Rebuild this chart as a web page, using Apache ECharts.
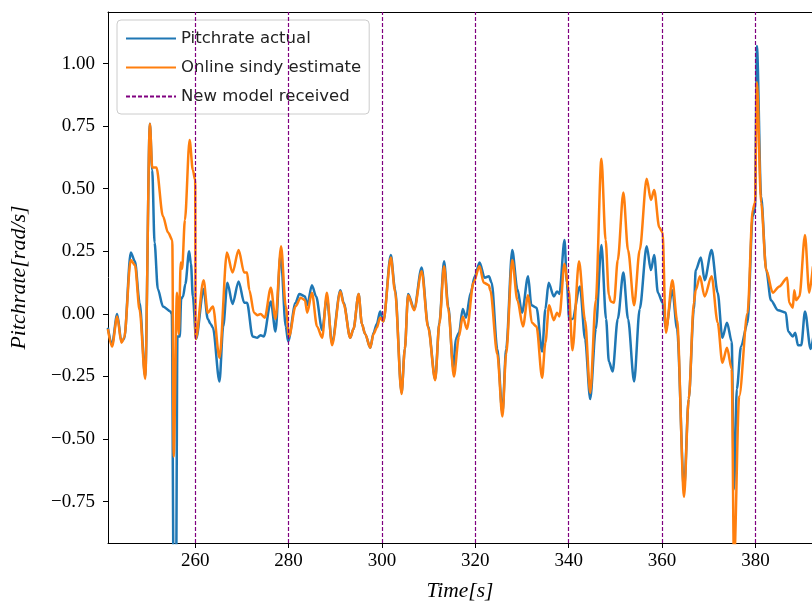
<!DOCTYPE html>
<html lang="en">
<head>
    <meta charset="UTF-8">
    <title>Pitchrate</title>
    <style type="text/css">
        body{margin:0;background:#fff;}
        #main{width:812px;height:607px;}
    </style>
    <script src="https://cdn.jsdelivr.net/npm/echarts@6/dist/echarts.min.js"></script>
</head>
<body>
<div id="main"></div>
<script>
    // time stamps [s] and pitch rate [rad/s]
    var tActual = [241.3,242.2,243.3,244.2,244.8,246.2,247.1,248.1,249.3,250.3,250.8,251.3,252.0,253.1,254.7,255.0,255.4,255.9,256.2,256.7,257.0,257.4,257.9,258.7,259.1,259.5,260.2,261.8,262.7,263.3,263.8,265.2,266.0,266.9,268.0,269.3,270.5,271.1,272.3,273.3,274.0,274.7,276.2,277.2,278.3,279.4,279.9,281.5,282.3,283.5,284.0,285.0,285.9,287.2,288.2,289.3,291.1,291.8,293.2,293.9,295.0,295.7,296.4,297.5,298.2,298.9,299.6,300.3,301.9,302.8,304.2,304.9,305.6,306.9,308.5,309.9,311.4,312.3,313.3,314.2,315.3,315.8,316.5,317.3,318.0,319.0,319.9,320.9,322.0,322.9,323.5,324.7,325.8,326.6,327.9,329.0,330.0,331.3,332.0,333.1,334.3,335.0,335.7,336.8,337.5,338.0,339.1,339.6,340.1,340.8,342.4,343.5,344.6,345.8,347.0,348.0,348.6,349.4,350.5,351.7,352.7,354.0,355.2,356.7,357.6,358.3,359.1,360.1,360.8,362.2,363.2,364.7,365.7,366.8,367.2,368.3,369.1,370.6,371.9,372.9,373.9,374.9,375.4,376.0,376.9,378.3,379.4,379.9,380.3,381.2,382.3,383.3,384.8,386.5,387.0,388.0,388.5,389.1,389.8,390.6,391.8,392.4];
    var pitchActual = [-0.055,-0.12,0.0,-0.11,-0.10,0.245,0.21,0.045,-0.25,0.76,0.575,0.285,0.10,0.03,0.01,0.0,-1.1,-1.1,-0.09,-0.09,0.06,0.07,0.12,0.25,0.2,0.07,-0.10,0.10,-0.02,-0.04,-0.055,-0.27,-0.05,0.125,0.04,0.13,0.045,0.045,-0.09,-0.095,-0.085,-0.09,0.05,-0.07,0.24,-0.05,-0.11,0.045,0.08,0.07,0.035,0.115,0.07,-0.065,0.065,-0.115,0.095,0.045,-0.095,-0.06,0.08,-0.04,-0.08,-0.135,-0.075,-0.04,0.01,-0.03,0.235,0.10,-0.315,-0.14,0.08,0.02,0.185,-0.05,-0.26,-0.035,0.21,0.03,-0.22,-0.10,-0.075,0.02,-0.015,0.085,0.15,0.205,0.145,0.15,0.125,-0.14,-0.395,-0.14,0.255,0.10,0.005,0.15,0.035,0.025,-0.15,0.02,0.125,0.07,0.09,0.08,0.295,0.125,-0.02,-0.02,0.11,-0.10,-0.34,-0.06,0.275,-0.02,-0.19,-0.23,-0.02,0.165,-0.02,-0.27,0.02,0.27,0.175,0.235,0.085,0.045,-0.06,0.095,-0.06,-0.70,-0.34,0.02,0.175,0.225,0.135,0.255,0.085,-0.095,-0.035,-0.11,-0.70,-0.30,-0.13,-0.035,0.39,0.42,1.07,0.47,0.175,0.055,0.015,0.005,-0.07,-0.09,-0.075,-0.125,-0.125,0.01,-0.14,-0.09];

    var tEstimate = [241.3,242.2,243.3,244.2,244.8,246.2,247.1,248.1,249.3,250.3,250.8,251.7,253.1,254.2,255.1,255.4,256.1,256.5,256.9,257.2,257.8,258.8,259.5,260.0,260.1,261.8,262.7,263.8,265.2,266.8,268.0,269.3,270.5,271.1,271.6,272.6,273.3,274.0,274.9,276.2,277.2,278.4,279.4,280.1,281.5,282.6,283.5,284.0,285.0,286.1,287.2,288.2,289.3,291.1,291.8,293.2,293.9,295.0,295.7,296.4,297.5,298.2,298.9,299.6,300.3,301.9,302.8,304.2,304.9,305.6,306.9,308.5,309.9,311.4,312.3,313.3,314.2,315.4,316.5,317.3,318.2,319.6,320.9,321.8,322.9,323.2,324.7,325.8,326.6,327.9,329.0,330.2,331.3,332.1,333.1,334.3,335.0,335.8,336.8,337.5,338.0,339.1,340.0,340.8,342.2,343.5,344.6,345.8,347.0,347.9,348.6,349.0,349.7,350.5,351.7,352.7,354.0,355.2,356.7,357.6,358.3,359.4,360.1,360.8,362.2,363.2,364.7,365.7,366.8,367.2,368.1,369.1,370.6,371.9,372.9,373.9,374.9,375.4,376.5,378.3,379.4,379.9,380.3,381.2,382.3,383.7,385.1,386.8,387.2,388.0,388.3,388.7,389.4,390.6,391.5,392.3];
    var pitchEstimate = [-0.06,-0.13,-0.01,-0.115,-0.095,0.215,0.195,0.015,-0.26,0.76,0.585,0.585,0.39,0.325,0.295,-0.57,0.085,-0.08,0.205,0.18,0.375,0.695,0.575,0.535,-0.10,0.135,0.005,0.03,-0.175,0.245,0.165,0.255,0.165,0.165,0.095,0.005,-0.005,0.0,-0.015,0.105,-0.02,0.27,0.03,-0.09,0.03,0.065,0.055,0.005,0.085,-0.05,-0.095,0.085,-0.125,0.09,0.04,-0.095,-0.06,0.08,-0.04,-0.08,-0.135,-0.08,-0.055,-0.015,-0.03,0.225,0.09,-0.32,-0.14,0.075,0.015,0.17,-0.055,-0.265,-0.04,0.19,0.02,-0.25,-0.09,-0.01,-0.06,0.125,0.19,0.125,0.115,0.095,-0.16,-0.41,-0.16,0.215,0.055,-0.05,0.075,-0.035,-0.05,-0.255,-0.115,0.035,-0.025,0.005,-0.01,0.2,0.095,-0.145,0.21,-0.025,-0.315,0.055,0.62,0.295,0.075,0.05,0.045,0.215,0.485,0.255,0.035,0.255,0.54,0.455,0.495,0.345,0.325,-0.075,0.135,-0.025,-0.73,-0.34,0.045,0.095,0.15,0.07,0.15,-0.035,-0.195,-0.135,-0.22,-1.0,-0.33,0.005,0.415,0.445,0.925,0.445,0.175,0.085,0.11,0.145,0.045,0.025,0.095,0.055,0.07,0.315,0.085,0.19];

    var modelTimes = [260, 280, 300, 320, 340, 360, 380];
    var xTicks = [260, 280, 300, 320, 340, 360, 380];
    var yTicks = [-0.75, -0.5, -0.25, 0, 0.25, 0.5, 0.75, 1.0];

    function pairs(t, v) {
        var res = [];
        for (var i = 0; i < t.length; i++) res.push([t[i], v[i]]);
        return res;
    }

    var serif = 'Liberation Serif';
    var xMin = 241.33, xMax = 392.1, yMin = -0.915, yMax = 1.206;

    var myChart = echarts.init(document.getElementById('main'));
    var option = {
        animation: false,
        backgroundColor: '#fff',
        grid: {left: 107, right: 0, top: 12, bottom: 63},
        legend: {
            orient: 'vertical',
            left: 117,
            top: 20,
            padding: [10, 8, 9, 8],
            itemWidth: 50,
            itemHeight: 14,
            itemGap: 12,
            backgroundColor: 'rgba(255,255,255,0.8)',
            borderColor: '#cccccc',
            borderWidth: 1,
            borderRadius: 4,
            itemStyle: {opacity: 0},
            lineStyle: {opacity: 1},
            textStyle: {fontFamily: 'DejaVu Sans', fontSize: 16.5, color: '#222'},
            data: ['Pitchrate actual', 'Online sindy estimate', 'New model received']
        },
        xAxis: [{
            type: 'value',
            min: xMin,
            max: xMax,
            name: 'Time[s]',
            nameLocation: 'middle',
            nameGap: 37,
            nameTextStyle: {fontFamily: serif, fontStyle: 'italic', fontSize: 21.5, color: '#000'},
            splitLine: {show: false},
            axisLine: {onZero: false, lineStyle: {color: '#000', width: 1}},
            axisTick: {inside: false, length: 5, lineStyle: {color: '#000'}, customValues: xTicks},
            axisLabel: {margin: 9, fontFamily: serif, fontSize: 19, color: '#000', customValues: xTicks}
        }, {
            type: 'value',
            position: 'top',
            min: xMin,
            max: xMax,
            splitLine: {show: false},
            axisLine: {show: true, onZero: false, lineStyle: {color: '#000', width: 1}},
            axisTick: {show: false},
            axisLabel: {show: false}
        }],
        yAxis: {
            type: 'value',
            min: yMin,
            max: yMax,
            name: 'Pitchrate[rad/s]',
            nameLocation: 'middle',
            nameGap: 78,
            nameTextStyle: {fontFamily: serif, fontStyle: 'italic', fontSize: 22, color: '#000'},
            splitLine: {show: false},
            axisLine: {show: true, onZero: false, lineStyle: {color: '#000', width: 1}},
            axisTick: {show: true, inside: false, length: 5, lineStyle: {color: '#000'}, customValues: yTicks},
            axisLabel: {
                margin: 13, fontFamily: serif, fontSize: 19, color: '#000', customValues: yTicks,
                formatter: function (v) { return v.toFixed(2).replace('-', '\u2212'); }
            }
        },
        series: [
            {
                name: 'Pitchrate actual',
                type: 'line',
                symbol: 'none',
                smooth: 0.3,
                smoothMonotone: 'x',
                clip: true,
                lineStyle: {color: '#1f77b4', width: 2.5},
                itemStyle: {color: '#1f77b4'},
                data: pairs(tActual, pitchActual)
            },
            {
                name: 'Online sindy estimate',
                type: 'line',
                symbol: 'none',
                smooth: 0.3,
                smoothMonotone: 'x',
                clip: true,
                lineStyle: {color: '#ff7f0e', width: 2.5},
                itemStyle: {color: '#ff7f0e'},
                data: pairs(tEstimate, pitchEstimate)
            },
            {
                name: 'New model received',
                type: 'line',
                symbol: 'none',
                lineStyle: {color: '#800080', width: 1.2, type: [4, 2]},
                itemStyle: {color: '#800080'},
                data: [],
                markLine: {
                    silent: true,
                    symbol: ['none', 'none'],
                    label: {show: false},
                    lineStyle: {color: '#800080', width: 1.2, type: [4, 2]},
                    data: modelTimes.map(function (t) { return {xAxis: t}; })
                }
            }
        ]
    };
    myChart.setOption(option);
</script>
</body>
</html>
